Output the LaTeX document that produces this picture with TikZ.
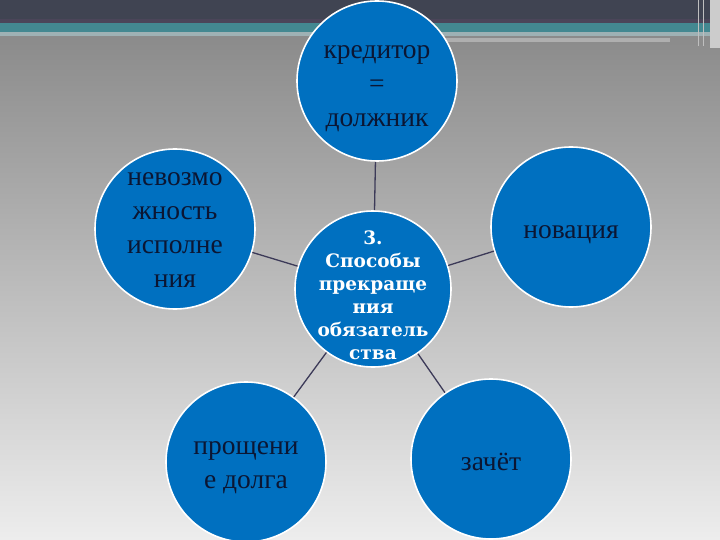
\documentclass[tikz,border=0pt]{standalone}
\usepackage{fontspec}
\setmainfont{Liberation Serif}
\newfontfamily\ringfont{Liberation Serif}
\newfontfamily\hubfont{DejaVu Serif}
\usepackage{xcolor}
\usetikzlibrary{calc}
\definecolor{barDark}{HTML}{404452}
\definecolor{barPurple}{HTML}{4B4559}
\definecolor{barTeal}{HTML}{438891}
\definecolor{circBlue}{HTML}{0070C0}
\definecolor{inkNavy}{HTML}{0B1633}
\definecolor{linkGray}{HTML}{3C3A58}
\tikzset{
  outer/.style={circle,fill=circBlue,draw=white,line width=1.6pt,
    minimum size=160pt,inner sep=0pt},
  hub/.style={outer,minimum size=156pt},
  ringtext/.style={align=center,text=inkNavy,inner sep=0pt,
    font=\ringfont\fontsize{27.5}{34}\selectfont},
  hubtext/.style={align=center,text=white,inner sep=0pt,
    font=\hubfont\fontsize{18.5}{23}\selectfont\bfseries},
  link/.style={draw=linkGray,line width=1.3pt}
}
\begin{document}
\begin{tikzpicture}[x=1pt,y=-1pt]
  \useasboundingbox (0,0) rectangle (720,540);
  % background
  \fill[top color=black!46,middle color=black!36,bottom color=black!7,shading angle=0]
    (0,30) rectangle (720,540);
  \fill[barDark] (0,0) rectangle (720,19);
  \fill[barPurple] (0,19) rectangle (720,23);
  \fill[barTeal] (0,23) rectangle (720,32);
  \fill[barTeal!60!black!45] (0,32) rectangle (720,36);
  \fill[white!30!black!45] (430,38) rectangle (670,42);
  \fill[black!20!white] (710,0) rectangle (720,48);
  \draw[black!25!white,line width=1pt] (698,0) -- (698,46);
  \draw[black!25!white,line width=1pt] (703,0) -- (703,46);

  \node[hub,label={[hubtext,yshift=-6pt]center:{3.\\Способы\\прекраще\\ния\\обязатель\\ства}}] (C) at (373,289) {};
  \node[outer,label={[ringtext,yshift=-8pt]center:{кредитор\\=\\должник}}] (T) at (377,81) {};
  \node[outer,label={[ringtext,yshift=-1pt]center:{невозмо\\жность\\исполне\\ния}}] (L) at (175,229) {};
  \node[outer,label={[ringtext,yshift=-8pt]center:{новация}}] (R) at (571,227) {};
  \node[outer,label={[ringtext,yshift=-6pt]center:{прощени\\е долга}}] (BL) at (246,462) {};
  \node[outer,label={[ringtext,yshift=-3pt]center:{зачёт}}] (BR) at (491,459) {};

  \draw[link] (C) -- (T);
  \draw[link] (C) -- (L);
  \draw[link] (C) -- (R);
  \draw[link] (C) -- (BL);
  \draw[link] (C) -- (BR);
\end{tikzpicture}
\end{document}
